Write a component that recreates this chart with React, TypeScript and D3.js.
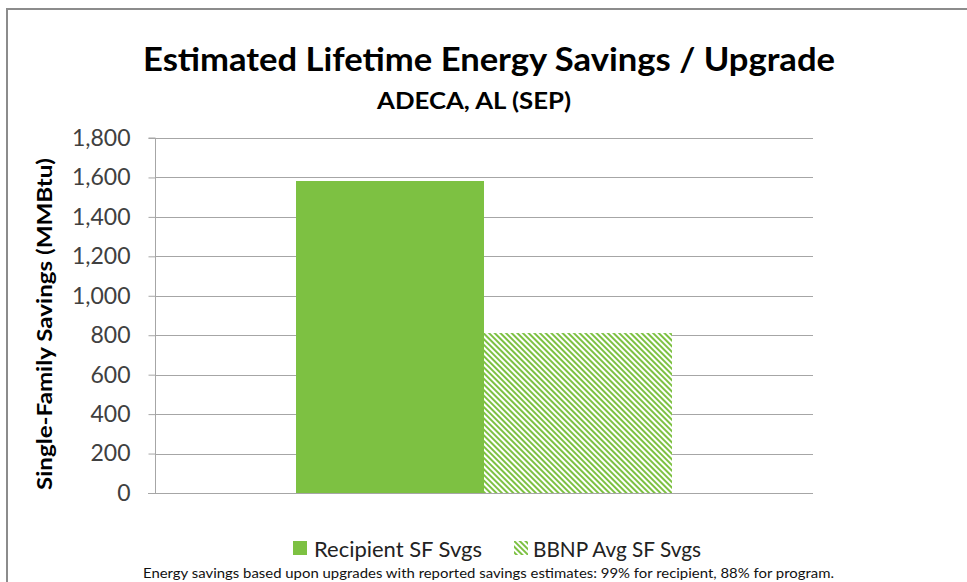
import React, { useEffect, useRef } from "react";
import * as d3 from "d3";

const categories = ["ADECA, AL (SEP)"];
const seriesNames = ["Recipient SF Svgs", "BBNP Avg SF Svgs"];
const seriesValues = [1582, 811];
const yTicks = [0, 200, 400, 600, 800, 1000, 1200, 1400, 1600, 1800];

const W = 967;
const H = 582;
const GREEN = "#7dc142";
const FONT = "Lato, 'Open Sans', sans-serif";

export default function App() {
  const ref = useRef<SVGSVGElement>(null);

  useEffect(() => {
    const svg = d3.select(ref.current);
    svg.selectAll("*").remove();

    const defs = svg.append("defs");
    const pat = defs
      .append("pattern")
      .attr("id", "hatch")
      .attr("patternUnits", "userSpaceOnUse")
      .attr("width", 4)
      .attr("height", 4)
      .attr("patternTransform", "rotate(-45)");
    pat.append("rect").attr("width", 4).attr("height", 4).attr("fill", "#fff");
    pat.append("rect").attr("width", 2).attr("height", 4).attr("fill", GREEN);

    // chart frame
    svg
      .append("rect")
      .attr("x", 7)
      .attr("y", 9)
      .attr("width", W + 20)
      .attr("height", H + 20)
      .attr("fill", "#fff")
      .attr("stroke", "#8c8c8c")
      .attr("stroke-width", 2);

    const left = 155, right = 813, top = 138, bottom = 493;

    const y = d3.scaleLinear().domain([0, 1800]).range([bottom, top]);
    const x0 = d3.scaleBand().domain(categories).range([left, right]).paddingOuter(0.375).paddingInner(0);
    const x1 = d3.scaleBand().domain(seriesNames).range([0, x0.bandwidth()]);

    // gridlines
    svg
      .append("g")
      .selectAll("line")
      .data(yTicks.filter((d) => d > 0))
      .join("line")
      .attr("x1", left)
      .attr("x2", right)
      .attr("y1", (d) => Math.round(y(d)) + 0.5)
      .attr("y2", (d) => Math.round(y(d)) + 0.5)
      .attr("stroke", "#a6a6a6");

    // bars
    const g = svg.append("g").attr("transform", `translate(${x0(categories[0])},0)`);
    g.selectAll("rect")
      .data(seriesValues)
      .join("rect")
      .attr("x", (d, i) => x1(seriesNames[i])!)
      .attr("width", x1.bandwidth())
      .attr("y", (d) => y(d))
      .attr("height", (d) => bottom - y(d))
      .attr("fill", (d, i) => (i === 0 ? GREEN : "url(#hatch)"));

    // y axis
    const yAxis = d3
      .axisLeft(y)
      .tickValues(yTicks)
      .tickSize(7)
      .tickPadding(18)
      .tickFormat((d) => d3.format(",")(d as number));
    const ya = svg.append("g").attr("transform", `translate(${left + 0.5},0)`).call(yAxis);
    ya.select(".domain").attr("stroke", "#a6a6a6").attr("d", `M-7,${top}H0V${bottom + 0.5}`);
    ya.selectAll(".tick line").attr("stroke", "#a6a6a6");
    ya.selectAll(".tick text")
      .attr("fill", "#404040")
      .style("font-family", FONT)
      .style("font-size", "23px");

    // x axis line
    svg
      .append("line")
      .attr("x1", left - 7)
      .attr("x2", right)
      .attr("y1", bottom + 0.5)
      .attr("y2", bottom + 0.5)
      .attr("stroke", "#a6a6a6");

    // titles
    svg
      .append("text")
      .attr("x", 143)
      .attr("y", 71)
      .attr("textLength", 692)
      .attr("lengthAdjust", "spacingAndGlyphs")
      .style("font-family", FONT)
      .style("font-weight", "bold")
      .style("font-size", "32px")
      .text("Estimated Lifetime Energy Savings / Upgrade");
    svg
      .append("text")
      .attr("x", 377)
      .attr("y", 109)
      .attr("textLength", 194)
      .attr("lengthAdjust", "spacingAndGlyphs")
      .style("font-family", FONT)
      .style("font-weight", "bold")
      .style("font-size", "23px")
      .text(categories[0]);

    svg
      .append("text")
      .attr("transform", `translate(52,490) rotate(-90)`)
      .attr("textLength", 332)
      .attr("lengthAdjust", "spacingAndGlyphs")
      .style("font-family", FONT)
      .style("font-weight", "bold")
      .style("font-size", "20px")
      .text("Single-Family Savings (MMBtu)");

    // legend
    const lg = svg.append("g");
    const items = [
      { name: seriesNames[0], fill: GREEN, sx: 293, tx: 314 },
      { name: seriesNames[1], fill: "url(#hatch)", sx: 514, tx: 533 },
    ];
    items.forEach((it) => {
      lg.append("rect").attr("x", it.sx).attr("y", 541).attr("width", 14).attr("height", 14).attr("fill", it.fill);
      lg.append("text")
        .attr("x", it.tx)
        .attr("y", 557)
        .attr("textLength", 168)
        .attr("lengthAdjust", "spacingAndGlyphs")
        .style("font-family", FONT)
        .style("font-size", "21px")
        .attr("fill", "#222")
        .text(it.name);
    });

    svg
      .append("text")
      .attr("x", 143)
      .attr("y", 578)
      .attr("textLength", 691)
      .attr("lengthAdjust", "spacingAndGlyphs")
      .style("font-family", FONT)
      .style("font-size", "13px")
      .attr("fill", "#111")
      .text("Energy savings based upon upgrades with reported savings estimates: 99% for recipient, 88% for program.");
  }, []);

  return (
    <svg
      ref={ref}
      width={W}
      height={H}
      style={{ position: "absolute", left: 0, top: 0, background: "#fff" }}
    />
  );
}
